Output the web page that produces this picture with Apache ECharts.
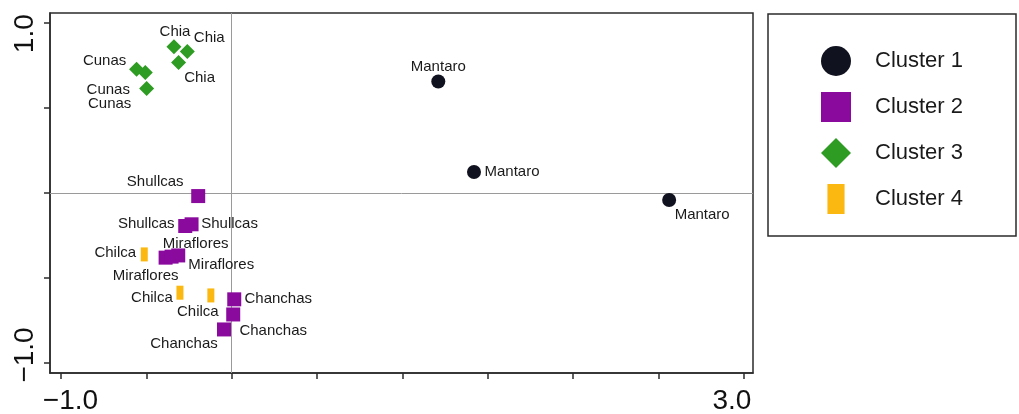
<!DOCTYPE html>
<html>
<head>
<meta charset="utf-8">
<script src="https://cdn.jsdelivr.net/npm/echarts@6/dist/echarts.min.js"></script>
<style>
  html, body { margin: 0; padding: 0; background: #fff; }
  #cluster-plot { width: 1019px; height: 414px; }
</style>
</head>
<body>
<div id="cluster-plot"></div>
<script>
// data (axis units)
var clusterNames = ["Cluster 1", "Cluster 2", "Cluster 3", "Cluster 4"];
var sites1 = ["Mantaro", "Mantaro", "Mantaro"];
var points1 = [[1.21, 0.654], [1.419, 0.122], [2.562, -0.042]];
var sites2 = ["Shullcas", "Shullcas", "Shullcas", "Miraflores", "Miraflores", "Miraflores", "Chanchas", "Chanchas", "Chanchas"];
var points2 = [[-0.196, -0.019], [-0.272, -0.195], [-0.235, -0.185], [-0.387, -0.381], [-0.352, -0.375], [-0.313, -0.368], [0.015, -0.626], [0.009, -0.715], [-0.045, -0.803]];
var sites3 = ["Chia", "Chia", "Chia", "Cunas", "Cunas", "Cunas"];
var points3 = [[-0.338, 0.858], [-0.26, 0.831], [-0.311, 0.766], [-0.557, 0.726], [-0.506, 0.707], [-0.498, 0.613]];
var sites4 = ["Chilca", "Chilca", "Chilca"];
var points4 = [[-0.512, -0.362], [-0.303, -0.587], [-0.122, -0.603]];
var xTicks = [-1, -0.5, 0, 0.5, 1, 1.5, 2, 2.5, 3];
var yTicks = [-1, -0.5, 0, 0.5, 1];
var xTickLabels = [-1, 3];
var yTickLabels = [-1, 1];

// label offsets in px from the marker centre (layout only)
var labelOffsets = [
  [[0, -15], [38, 0], [33, 15]],
  [[-43, -14], [-39, -2], [38, 0], [-20, 18], [24, -13], [43, 9], [44, 0], [40, 16], [-40, 14]],
  [[1, -15], [22, -14], [21, 15], [-32, -8], [-37, 17], [-37, 15]],
  [[-29, -2], [-28, 5], [-13, 16]]
];
var colors = ["#10121f", "#8a0a9e", "#2e9c22", "#fbb811"];
var symbols = ["circle", "rect", "diamond", "rect"];
var symbolSizes = [14, 14, 15, [7, 14]];
var legendIcons = ["circle", "rect", "diamond", "path://M0,0h16v28h-16z"];

var allPoints = [points1, points2, points3, points4];
var allSites = [sites1, sites2, sites3, sites4];

function fmtNum(v) {
  return (v < 0 ? "\u2212" : "") + Math.abs(v).toFixed(1);
}

var series = [];
for (var c = 0; c < 4; c++) {
  var data = [];
  for (var i = 0; i < allPoints[c].length; i++) {
    data.push({
      name: allSites[c][i],
      value: allPoints[c][i],
      label: { offset: labelOffsets[c][i] }
    });
  }
  series.push({
    name: clusterNames[c],
    type: "scatter",
    data: data,
    symbol: symbols[c],
    symbolSize: symbolSizes[c],
    itemStyle: { color: colors[c], opacity: 1 },
    label: {
      show: true,
      position: "inside",
      formatter: "{b}",
      color: "#1a1a1a",
      fontSize: 15,
      fontFamily: "Liberation Sans, Arial, sans-serif",
      textBorderWidth: 0
    },
    emphasis: { disabled: true },
    silent: true,
    z: 3
  });
}
// zero reference lines
series[0].markLine = {
  silent: true,
  symbol: "none",
  label: { show: false },
  lineStyle: { color: "#9a9a9a", width: 1, type: "solid" },
  data: [{ xAxis: 0 }, { yAxis: 0 }],
  z: 1
};

var chart = echarts.init(document.getElementById("cluster-plot"));
chart.setOption({
  animation: false,
  backgroundColor: "#fff",
  grid: {
    left: 50, top: 13, right: 266, bottom: 41,
    show: true,
    borderColor: "#2b2b2b",
    borderWidth: 1.5,
    outerBoundsMode: "none"
  },
  xAxis: {
    type: "value",
    min: -1.064,
    max: 3.053,
    splitLine: { show: false },
    axisLine: { onZero: false, lineStyle: { color: "#2b2b2b", width: 1.5 } },
    axisTick: { customValues: xTicks, length: 6, lineStyle: { color: "#2b2b2b", width: 1.5 } },
    axisLabel: {
      customValues: xTickLabels,
      margin: 14,
      formatter: function (v) { return v < 0 ? "{a|" + fmtNum(v) + "}" : "{b|" + fmtNum(v) + "}"; },
      rich: {
        a: { fontSize: 28, color: "#111", fontFamily: "Liberation Sans, Arial, sans-serif", padding: [0, 0, 0, 19] },
        b: { fontSize: 28, color: "#111", fontFamily: "Liberation Sans, Arial, sans-serif", padding: [0, 24, 0, 0] }
      }
    }
  },
  yAxis: {
    type: "value",
    min: -1.059,
    max: 1.057,
    splitLine: { show: false },
    axisLine: { onZero: false, lineStyle: { color: "#2b2b2b", width: 1.5 } },
    axisTick: { customValues: yTicks, length: 6, lineStyle: { color: "#2b2b2b", width: 1.5 } },
    axisLabel: {
      customValues: yTickLabels,
      rotate: 90,
      margin: 11,
      formatter: function (v) { return v < 0 ? "{a|" + fmtNum(v) + "}" : "{b|" + fmtNum(v) + "}"; },
      rich: {
        a: { fontSize: 28, color: "#111", fontFamily: "Liberation Sans, Arial, sans-serif", padding: [0, 0, 0, 16] },
        b: { fontSize: 28, color: "#111", fontFamily: "Liberation Sans, Arial, sans-serif", padding: [0, 22, 0, 0] }
      }
    }
  },
  legend: {
    orient: "vertical",
    left: 816,
    top: 41,
    itemWidth: 30,
    itemHeight: 30,
    itemGap: 16,
    selectedMode: false,
    data: clusterNames.map(function (n, k) { return { name: n, icon: legendIcons[k] }; }),
    textStyle: {
      fontSize: 22,
      color: "#1a1a1a",
      fontFamily: "Liberation Sans, Arial, sans-serif",
      padding: [0, 0, 0, 19]
    }
  },
  graphic: [{
    type: "rect",
    shape: { x: 768, y: 14, width: 248, height: 222 },
    style: { fill: "none", stroke: "#2b2b2b", lineWidth: 1.5 },
    silent: true
  }],
  series: series
});
</script>
</body>
</html>
